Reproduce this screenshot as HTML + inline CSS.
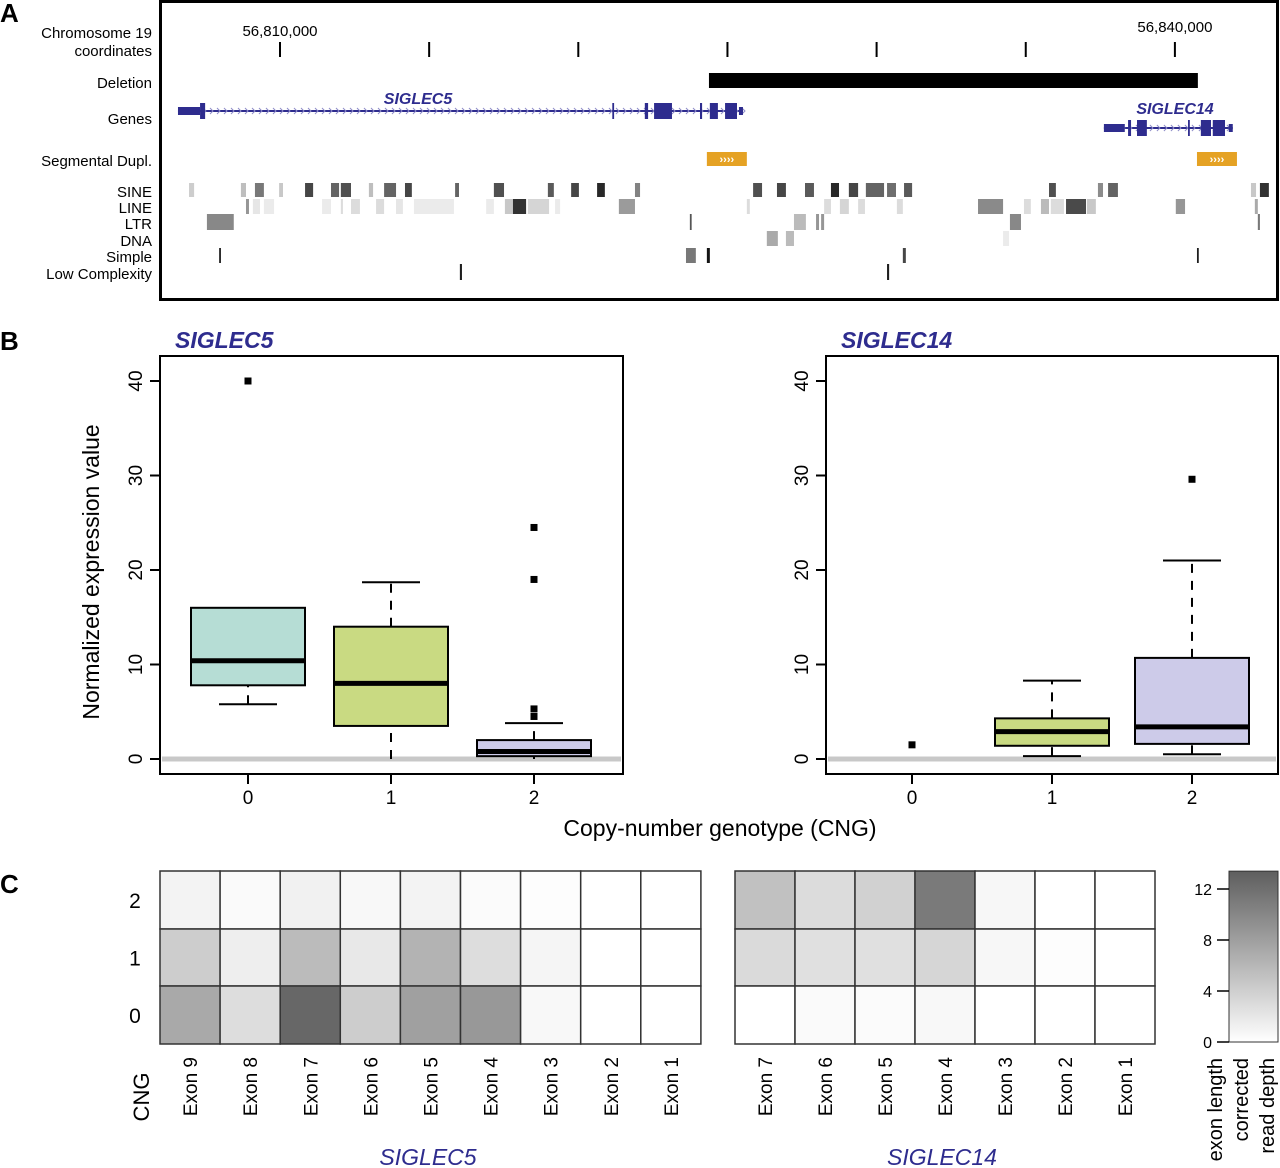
<!DOCTYPE html>
<html><head><meta charset="utf-8"><style>
html,body{margin:0;padding:0;background:#fff;}
svg{display:block;font-family:"Liberation Sans",sans-serif;}
</style></head><body>
<svg id="fig" width="1280" height="1168" viewBox="0 0 1280 1168" xmlns="http://www.w3.org/2000/svg">
<g id="panelA"></g>
<g id="panelB"></g>
<g id="panelC"></g>
</svg>
<script>
// ---------- Panel A data (kb offset from 56,800,000) ----------
const coordTicksKb=[10,15,20,25,30,35,40];
const coordTickLabels={10:"56,810,000",40:"56,840,000"};
const deletionKb=[24.38,40.77];
const segDupKb=[[24.31,25.65],[40.74,42.08]];
const siglec5Utr=[[6.58,7.32]];
const siglec5Exons=[[7.32,7.49],[21.14,21.20],[22.23,22.34],[22.54,23.14],[24.08,24.15],[24.41,24.68],[24.92,25.32]];
const siglec5Intron=[6.58,25.52];
const siglec14Utr=[[37.62,38.32]];
const siglec14Exons=[[38.43,38.53],[38.73,39.06],[40.44,40.50],[40.87,41.21],[41.27,41.68]];
const siglec14Intron=[37.62,41.94];
const sineKb=[[6.95,7.12,205],[8.69,8.86,190],[9.16,9.46,120],[9.97,10.10,200],[10.84,11.11,70],[11.71,11.98,100],[12.04,12.38,80],[12.98,13.12,190],[13.49,13.89,100],[14.19,14.42,70],[15.87,16.00,100],[17.17,17.51,80],[18.98,19.18,90],[19.76,20.02,70],[20.63,20.89,40],[21.90,22.07,130],[25.86,26.16,80],[26.66,26.96,70],[27.60,27.90,90],[28.47,28.74,40],[29.07,29.38,70],[29.64,30.25,100],[30.35,30.65,110],[30.92,31.19,90],[35.78,36.01,80],[37.42,37.59,140],[37.76,38.09,100],[42.55,42.72,200],[42.85,43.15,50]];
const lineKb=[[8.86,8.96,150],[9.09,9.33,230],[9.46,9.80,235],[11.41,11.71,235],[12.04,12.11,220],[12.38,12.68,220],[13.22,13.49,220],[13.89,14.12,230],[14.49,15.83,235],[16.91,17.17,235],[17.54,17.81,200],[17.81,18.25,50],[18.31,19.02,213],[19.22,19.39,235],[21.36,21.90,155],[25.65,25.75,220],[28.24,28.47,220],[28.77,29.07,213],[29.38,29.61,220],[30.68,30.88,220],[33.40,34.24,138],[34.94,35.17,220],[35.51,35.78,187],[35.84,36.28,220],[36.35,37.02,74],[37.05,37.35,200],[40.03,40.34,150],[42.68,42.78,170]];
const ltrKb=[[7.55,8.45,136],[23.74,23.80,85],[27.23,27.63,187],[27.97,28.07,150],[28.14,28.24,150],[34.47,34.84,136],[42.78,42.85,120]];
const dnaKb=[[26.32,26.69,170],[26.96,27.23,187],[34.24,34.44,235]];
const simpleKb=[[7.96,8.02,30],[23.61,23.94,120],[24.31,24.41,20],[30.88,30.98,70],[40.74,40.80,30]];
const lowKb=[[16.03,16.10,30],[30.35,30.42,30]];

// ---------- Panel B data ----------
const cngCategories=["0","1","2"];
const yTicks=[0,10,20,30,40];
const s5Stats=[ // [lowWhisk,q1,median,q3,highWhisk]
 [5.8,7.8,10.4,16.0,16.0],
 [0.0,3.5,8.0,14.0,18.7],
 [0.0,0.3,0.8,2.0,3.8]];
const s5Outliers=[[40.0],[],[4.5,5.3,19.0,24.5]];
const s14Stats=[null,
 [0.3,1.4,2.9,4.3,8.3],
 [0.5,1.6,3.4,10.7,21.0]];
const s14Outliers=[[1.5],[],[29.6]];
const boxColors=["#b6ddd5","#c9da82","#cdcbe9"];

// ---------- Panel C data ----------
const cngRows=["2","1","0"];
const s5Exons=["Exon 9","Exon 8","Exon 7","Exon 6","Exon 5","Exon 4","Exon 3","Exon 2","Exon 1"];
const s14Exons=["Exon 7","Exon 6","Exon 5","Exon 4","Exon 3","Exon 2","Exon 1"];
const s5Heat=[
 [1.0,0.4,1.2,0.6,1.0,0.3,0.2,0,0],
 [4.2,1.4,5.7,1.9,6.3,2.8,0.8,0,0],
 [7.2,2.8,12.7,4.2,7.9,8.6,0.6,0,0]];
const s14Heat=[
 [5.2,2.9,3.8,11.1,0.7,0,0],
 [3.1,2.6,2.6,3.4,0.7,0.2,0],
 [0,0.4,0.3,0.6,0,0,0]];
const legendTicks=[0,4,8,12];

const NS="http://www.w3.org/2000/svg";
function mk(parent,tag,attrs,text){const e=document.createElementNS(NS,tag);for(const k in attrs)e.setAttribute(k,attrs[k]);if(text!==undefined)e.textContent=text;parent.appendChild(e);return e;}
const BLUE="#2e2c8e";

// ===== Panel A =====
const A=document.getElementById('panelA');
const gx=kb=>280+(kb-10)*29.83;
let el=mk(A,'text',{x:0,y:22,'font-size':26,'font-weight':'bold'},'A');

el=mk(A,'rect',{x:160.5,y:1.5,width:1117,height:298,fill:'none',stroke:'#000','stroke-width':3});

const rowLabels=[["Chromosome 19",38],["coordinates",56],["Deletion",88],["Genes",124],["Segmental Dupl.",166],["SINE",197],["LINE",213],["LTR",229],["DNA",246],["Simple",262],["Low Complexity",279]];
rowLabels.forEach(r=>{el=mk(A,'text',{x:152,y:r[1],'font-size':15,'text-anchor':'end'},r[0]);
});
coordTicksKb.forEach(k=>{el=mk(A,'line',{x1:gx(k),x2:gx(k),y1:42,y2:57,stroke:'#000','stroke-width':2});

if(coordTickLabels[k]){el=mk(A,'text',{x:gx(k),y:k===10?36:32,'font-size':15,'text-anchor':'middle'},coordTickLabels[k]);
}});
el=mk(A,'rect',{x:gx(deletionKb[0]),y:73,width:gx(deletionKb[1])-gx(deletionKb[0]),height:15,fill:'#000'});

function gene(intron,utr,exons,yc,label,lx,ly){
 const g=mk(A,'g',{});
 
 mk(g,'line',{x1:gx(intron[0]),x2:gx(intron[1]),y1:yc,y2:yc,stroke:BLUE,'stroke-width':2});
 for(let x=gx(intron[0])+4;x<gx(intron[1]);x+=7){mk(g,'path',{d:`M${x} ${yc-3}L${x+3} ${yc}L${x} ${yc+3}`,stroke:'#8e8cc8','stroke-width':1,fill:'none'});}
 utr.forEach(u=>mk(g,'rect',{x:gx(u[0]),y:yc-4,width:gx(u[1])-gx(u[0]),height:8,fill:BLUE}));
 mk(g,'rect',{x:gx(intron[1])-4,y:yc-4,width:4,height:8,fill:BLUE});
 exons.forEach(u=>mk(g,'rect',{x:gx(u[0]),y:yc-8,width:Math.max(1.5,gx(u[1])-gx(u[0])),height:16,fill:BLUE}));
 el=mk(g,'text',{x:lx,y:ly,'font-size':16,'font-style':'italic','font-weight':'bold',fill:BLUE,'text-anchor':'middle'},label);
 
}
gene(siglec5Intron,siglec5Utr,siglec5Exons,111,"SIGLEC5",418,104);
gene(siglec14Intron,siglec14Utr,siglec14Exons,128,"SIGLEC14",1175,114);
segDupKb.forEach(s=>{const g=mk(A,'g',{});
 
 mk(g,'rect',{x:gx(s[0]),y:152,width:gx(s[1])-gx(s[0]),height:14,fill:'#e5a224'});
 mk(g,'text',{x:(gx(s[0])+gx(s[1]))/2,y:163,'font-size':11,fill:'#fff','text-anchor':'middle','font-weight':'bold'},'››››');});
function track(arr,y0,h,name){arr.forEach(b=>{const g=b[2];
 el=mk(A,'rect',{x:gx(b[0]),y:y0,width:Math.max(1.5,gx(b[1])-gx(b[0])),height:h,fill:`rgb(${g},${g},${g})`});
 });}
track(sineKb,183,14,'sine');track(lineKb,199,15,'line');track(ltrKb,214,16,'ltr');
track(dnaKb,231,15,'dna');track(simpleKb,248,15,'simple');track(lowKb,264,16,'low-complexity');

// ===== Panel B =====
const B=document.getElementById('panelB');
el=mk(B,'text',{x:0,y:350,'font-size':26,'font-weight':'bold'},'B');

const by=v=>759-v*9.45;
function boxplot(x0,x1,cx,title,stats,outs,nm){
 const g=mk(B,'g',{});
 el=mk(g,'text',{x:x0+15,y:348,'font-size':23,'font-style':'italic','font-weight':'bold',fill:BLUE},title);
 
 el=mk(g,'line',{x1:x0+2,x2:x1-2,y1:by(0),y2:by(0),stroke:'#c8c8c8','stroke-width':5});
 
 yTicks.forEach(t=>{mk(g,'line',{x1:x0-10,x2:x0,y1:by(t),y2:by(t),stroke:'#000','stroke-width':2});
  el=mk(g,'text',{transform:`translate(${x0-18},${by(t)}) rotate(-90)`,'font-size':19,'text-anchor':'middle'},t);
  });
 cngCategories.forEach((c,i)=>{mk(g,'line',{x1:cx[i],x2:cx[i],y1:774,y2:784,stroke:'#000','stroke-width':2});
  el=mk(g,'text',{x:cx[i],y:804,'font-size':19,'text-anchor':'middle'},c);
  });
 stats.forEach((s,i)=>{if(!s)return;const x=cx[i],hw=57;
  const bg=mk(g,'g',{});
  mk(bg,'line',{x1:x,x2:x,y1:by(s[0]),y2:by(s[1]),stroke:'#000','stroke-width':2,'stroke-dasharray':'9,8'});
  mk(bg,'line',{x1:x,x2:x,y1:by(s[3]),y2:by(s[4]),stroke:'#000','stroke-width':2,'stroke-dasharray':'9,8'});
  if(s[0]>0.05)mk(bg,'line',{x1:x-29,x2:x+29,y1:by(s[0]),y2:by(s[0]),stroke:'#000','stroke-width':2});
  if(s[4]>s[3])mk(bg,'line',{x1:x-29,x2:x+29,y1:by(s[4]),y2:by(s[4]),stroke:'#000','stroke-width':2});
  mk(bg,'rect',{x:x-hw,y:by(s[3]),width:hw*2,height:by(s[1])-by(s[3]),fill:boxColors[i],stroke:'#000','stroke-width':2});
  mk(bg,'line',{x1:x-hw,x2:x+hw,y1:by(s[2]),y2:by(s[2]),stroke:'#000','stroke-width':5});});
 outs.forEach((o,i)=>o.forEach(v=>{el=mk(g,'rect',{x:cx[i]-3.5,y:by(v)-3.5,width:7,height:7,fill:'#000'});
  }));
 el=mk(g,'rect',{x:x0,y:356,width:x1-x0,height:418,fill:'none',stroke:'#000','stroke-width':2});
 
}
boxplot(160,623,[248,391,534],"SIGLEC5",s5Stats,s5Outliers,'siglec5-boxplot');
boxplot(826,1278,[912,1052,1192],"SIGLEC14",s14Stats,s14Outliers,'siglec14-boxplot');
el=mk(B,'text',{transform:'translate(99,572) rotate(-90)','font-size':23,'text-anchor':'middle'},'Normalized expression value');

el=mk(B,'text',{x:720,y:836,'font-size':23,'text-anchor':'middle'},'Copy-number genotype (CNG)');


// ===== Panel C =====
const C=document.getElementById('panelC');
el=mk(C,'text',{x:0,y:893,'font-size':26,'font-weight':'bold'},'C');

const shade=v=>{const g=Math.round(255-Math.min(v,13.4)*12);return `rgb(${g},${g},${g})`;};
const rowY=[871,929,986],rowH=[58,57,58];
function heat(x0,cw,cols,data,title,tx,nm){
 const g=mk(C,'g',{});
 data.forEach((row,r)=>row.forEach((v,c)=>{el=mk(g,'rect',{x:x0+c*cw,y:rowY[r],width:cw,height:rowH[r],fill:shade(v),stroke:'#333','stroke-width':1.5});
  }));
 cols.forEach((c,i)=>{el=mk(g,'text',{transform:`translate(${x0+i*cw+cw/2+7},1057) rotate(-90)`,'font-size':19,'text-anchor':'end'},c);
  });
 el=mk(g,'text',{x:tx,y:1165,'font-size':23,'font-style':'italic',fill:BLUE,'text-anchor':'middle'},title);
 
}
heat(160,60.1,s5Exons,s5Heat,"SIGLEC5",428,'siglec5-heatmap');
heat(735,60,s14Exons,s14Heat,"SIGLEC14",942,'siglec14-heatmap');
cngRows.forEach((r,i)=>{el=mk(C,'text',{x:135,y:rowY[i]+rowH[i]/2+8,'font-size':21,'text-anchor':'middle'},r);
 });
el=mk(C,'text',{transform:'translate(149,1097) rotate(-90)','font-size':22,'text-anchor':'middle'},'CNG');

// legend
const defs=mk(document.getElementById('fig'),'defs',{});
const lg=mk(defs,'linearGradient',{id:'lg',x1:0,y1:1,x2:0,y2:0});
mk(lg,'stop',{offset:0,'stop-color':shade(0)});mk(lg,'stop',{offset:1,'stop-color':shade(13.4)});
const ly=v=>1042-v*12.75;
const L=mk(C,'g',{});
mk(L,'rect',{x:1229,y:ly(13.4),width:49,height:ly(0)-ly(13.4),fill:'url(#lg)',stroke:'#333','stroke-width':1});
legendTicks.forEach(t=>{mk(L,'line',{x1:1217,x2:1229,y1:ly(t),y2:ly(t),stroke:'#000','stroke-width':1.5});
 el=mk(L,'text',{x:1212,y:ly(t)+6,'font-size':16,'text-anchor':'end'},t);
 });
[["exon length",1222],["corrected",1248],["read depth",1274]].forEach(s=>{
 el=mk(L,'text',{transform:`translate(${s[1]},1058) rotate(-90)`,'font-size':20,'text-anchor':'end'},s[0]);
 });
</script>
</body></html>
